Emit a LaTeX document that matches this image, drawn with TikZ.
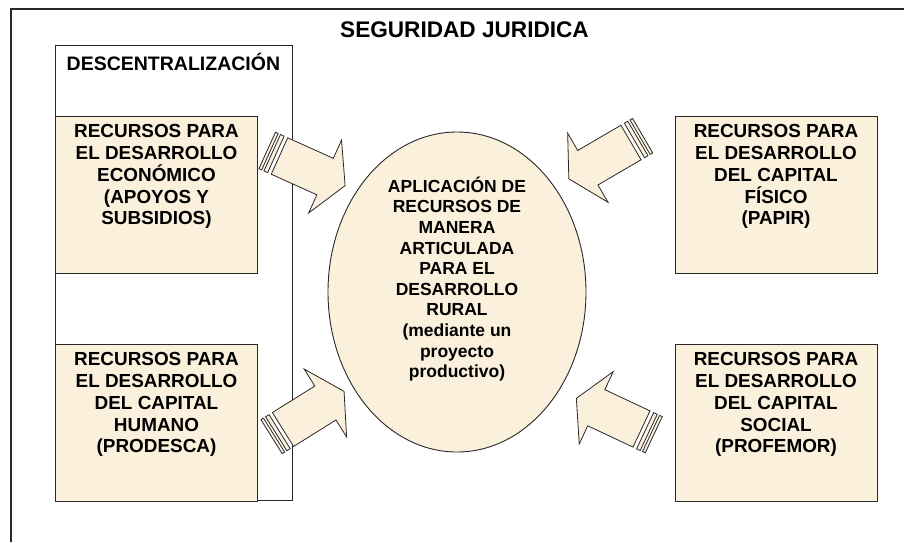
\documentclass[tikz,border=0pt]{standalone}
\usepackage{fontspec}
\setmainfont{Liberation Sans}
\usepackage{tikz}
\usetikzlibrary{shapes.geometric}

\definecolor{parch}{RGB}{251,240,220}
\definecolor{edge}{RGB}{40,40,40}

\tikzset{
  resbox/.style={draw=edge, line width=0.9pt, fill=parch, minimum width=202pt, minimum height=157pt, inner sep=0pt},
  restext/.style={anchor=north, inner sep=0pt, align=center, font=\fontsize{18.9}{21.7}\selectfont\bfseries},
  striparrow/.pic={
    \filldraw[draw=edge, fill=parch, line width=0.8pt] (-13.5,-20) rectangle (-10.5,20);
    \filldraw[draw=edge, fill=parch, line width=0.8pt] (-8,-20) rectangle (-4,20);
    \filldraw[draw=edge, fill=parch, line width=0.8pt, line join=miter]
      (0,-20) -- (50,-20) -- (50,-40) -- (72,0) -- (50,40) -- (50,20) -- (0,20) -- cycle;
  }
}

\begin{document}
\begin{tikzpicture}[x=1pt, y=-1pt]
                        \useasboundingbox (0,0) rectangle (904,542);
                        \draw[line width=1.3pt, draw=edge] (11,542) -- (11,9) -- (904,9);
                        \node[font=\fontsize{22.6}{26}\selectfont\bfseries, anchor=base, inner sep=0pt] (title) at (464.5,37.5) {SEGURIDAD JURIDICA};
                        % descentralizacion
                        \draw[line width=0.9pt, draw=edge] (55.5,45) rectangle (292,500.5);
                        \node[font=\fontsize{19.5}{22}\selectfont\bfseries, anchor=base west, inner sep=0pt] (desc) at (66.5,70) {DESCENTRALIZACIÓN};
                        % recursos
                        \node[resbox] (econ) at (156.5,194.5) {};
                        \node[restext] (econtxt) at ([yshift=-9pt]econ.north) {RECURSOS PARA\\EL DESARROLLO\\ECONÓMICO\\(APOYOS Y\\SUBSIDIOS)};
                        \node[resbox] (human) at (156.5,422.5) {};
                        \node[restext] (humantxt) at ([yshift=-9pt]human.north) {RECURSOS PARA\\EL DESARROLLO\\DEL CAPITAL\\HUMANO\\(PRODESCA)};
                        \node[resbox] (fisico) at (776,194.5) {};
                        \node[restext] (fisicotxt) at ([yshift=-9pt]fisico.north) {RECURSOS PARA\\EL DESARROLLO\\DEL CAPITAL\\FÍSICO\\(PAPIR)};
                        \node[resbox] (social) at (776,422.5) {};
                        \node[restext] (socialtxt) at ([yshift=-9pt]social.north) {RECURSOS PARA\\EL DESARROLLO\\DEL CAPITAL\\SOCIAL\\(PROFEMOR)};
                        % centro
                        \node[ellipse, draw=edge, line width=0.9pt, fill=parch, minimum width=258pt, minimum height=320pt] (aplic) at (457,292) {};
                        \node[inner sep=0pt, align=center, font=\fontsize{17.5}{20.6}\selectfont\bfseries] (aplictxt) at (457,279) {APLICACIÓN DE\\RECURSOS DE\\MANERA\\ARTICULADA\\PARA EL\\DESARROLLO\\RURAL\\(mediante un\\proyecto\\productivo)};
                        % flechas
                        \pic[rotate=-24.3] at (279.5,156) {striparrow};
                        \pic[rotate=32] at (283,429.5) {striparrow};
                        \pic[rotate=210.3] at (631,142.5) {striparrow};
                        \pic[rotate=154.8] at (641.5,429) {striparrow};
                \end{tikzpicture}
\end{document}
